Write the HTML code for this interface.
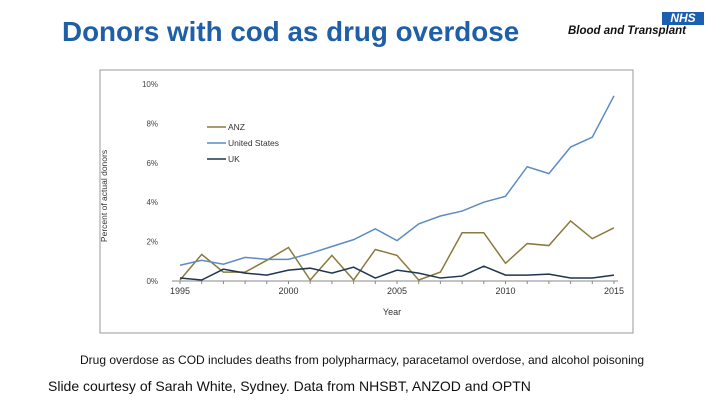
<!DOCTYPE html>
<html><head><meta charset="utf-8"><style>
body{margin:0;width:720px;height:405px;background:#fff;overflow:hidden;font-family:"Liberation Sans",sans-serif;position:relative}
.t{position:absolute;white-space:nowrap}
</style></head><body>
<div class="t" style="left:62px;top:16px;font-size:27.8px;font-weight:bold;color:#1f5fa6">Donors with cod as drug overdose</div>
<div style="position:absolute;left:662px;top:12px;width:42px;height:13px;background:#1b5fb0;color:#fff;font-weight:bold;font-style:italic;font-size:12px;line-height:13px;text-align:center">NHS</div>
<div class="t" style="left:568px;top:25px;font-size:11.5px;font-weight:bold;font-style:italic;color:#111">Blood and Transplant</div>
<svg width="720" height="405" style="position:absolute;left:0;top:0">
<rect x="100" y="70" width="533" height="263" fill="none" stroke="#999" stroke-width="1"/>
<g id="g"></g>
</svg>
<div class="t" style="left:80px;top:353px;font-size:12px;color:#111">Drug overdose as COD includes deaths from polypharmacy, paracetamol overdose, and alcohol poisoning</div>
<div class="t" style="left:48px;top:378px;font-size:14px;color:#111">Slide courtesy of Sarah White, Sydney. Data from NHSBT, ANZOD and OPTN</div>
<script>
const years=[1995,1996,1997,1998,1999,2000,2001,2002,2003,2004,2005,2006,2007,2008,2009,2010,2011,2012,2013,2014,2015];
const anz=[0.05,1.35,0.45,0.45,1.05,1.7,0.05,1.3,0.05,1.6,1.3,0.05,0.45,2.45,2.45,0.9,1.9,1.8,3.05,2.15,2.7];
const us=[0.8,1.05,0.85,1.2,1.1,1.1,1.4,1.75,2.1,2.65,2.05,2.9,3.3,3.55,4.0,4.3,5.8,5.45,6.8,7.3,9.4];
const uk=[0.15,0.05,0.6,0.4,0.3,0.55,0.65,0.4,0.7,0.15,0.55,0.4,0.15,0.25,0.75,0.3,0.3,0.35,0.15,0.15,0.3];
const yTicks=[0,2,4,6,8,10];
const xTicks=[1995,2000,2005,2010,2015];
const X=y=>180+(y-1995)*21.7, Y=v=>281-v*19.7;
const g=document.getElementById('g'),NS='http://www.w3.org/2000/svg';
function mk(t,a){const e=document.createElementNS(NS,t);for(const k in a)e.setAttribute(k,a[k]);g.appendChild(e);return e;}
let e=mk('line',{x1:X(1995)-8,x2:X(2015)+4,y1:Y(0),y2:Y(0),stroke:'#888'});

yTicks.forEach(v=>{const t=mk('text',{x:X(1995)-22,y:Y(v)+3,'font-size':8,fill:'#444','text-anchor':'end','font-family':'Liberation Sans'});t.textContent=v+'%';
});
xTicks.forEach(v=>{const t=mk('text',{x:X(v),y:Y(0)+13,'font-size':9,fill:'#333','text-anchor':'middle','font-family':'Liberation Sans'});t.textContent=v;
});
years.forEach(y=>{const l=mk('line',{x1:X(y),x2:X(y),y1:Y(0),y2:Y(0)+3,stroke:'#888'});});
const series=[['anz',anz,'#8b7a3e','ANZ'],['united-states',us,'#5b8cc4','United States'],['uk',uk,'#1f3550','UK']];
series.forEach((s,i)=>{const p=mk('polyline',{points:s[1].map((v,j)=>X(years[j])+','+Y(v)).join(' '),fill:'none',stroke:s[2],'stroke-width':1.5});

const ly=127+i*16;const l=mk('line',{x1:207,x2:226,y1:ly,y2:ly,stroke:s[2],'stroke-width':1.5});

const t=mk('text',{x:228,y:ly+3,'font-size':8.5,fill:'#333','font-family':'Liberation Sans'});t.textContent=s[3];
});
let t=mk('text',{x:392,y:315,'font-size':9,fill:'#333','text-anchor':'middle','font-family':'Liberation Sans'});t.textContent='Year';

t=mk('text',{x:0,y:0,'font-size':8.5,fill:'#333','text-anchor':'middle','font-family':'Liberation Sans',transform:'translate(107,196) rotate(-90)'});t.textContent='Percent of actual donors';

</script>
</body></html>
